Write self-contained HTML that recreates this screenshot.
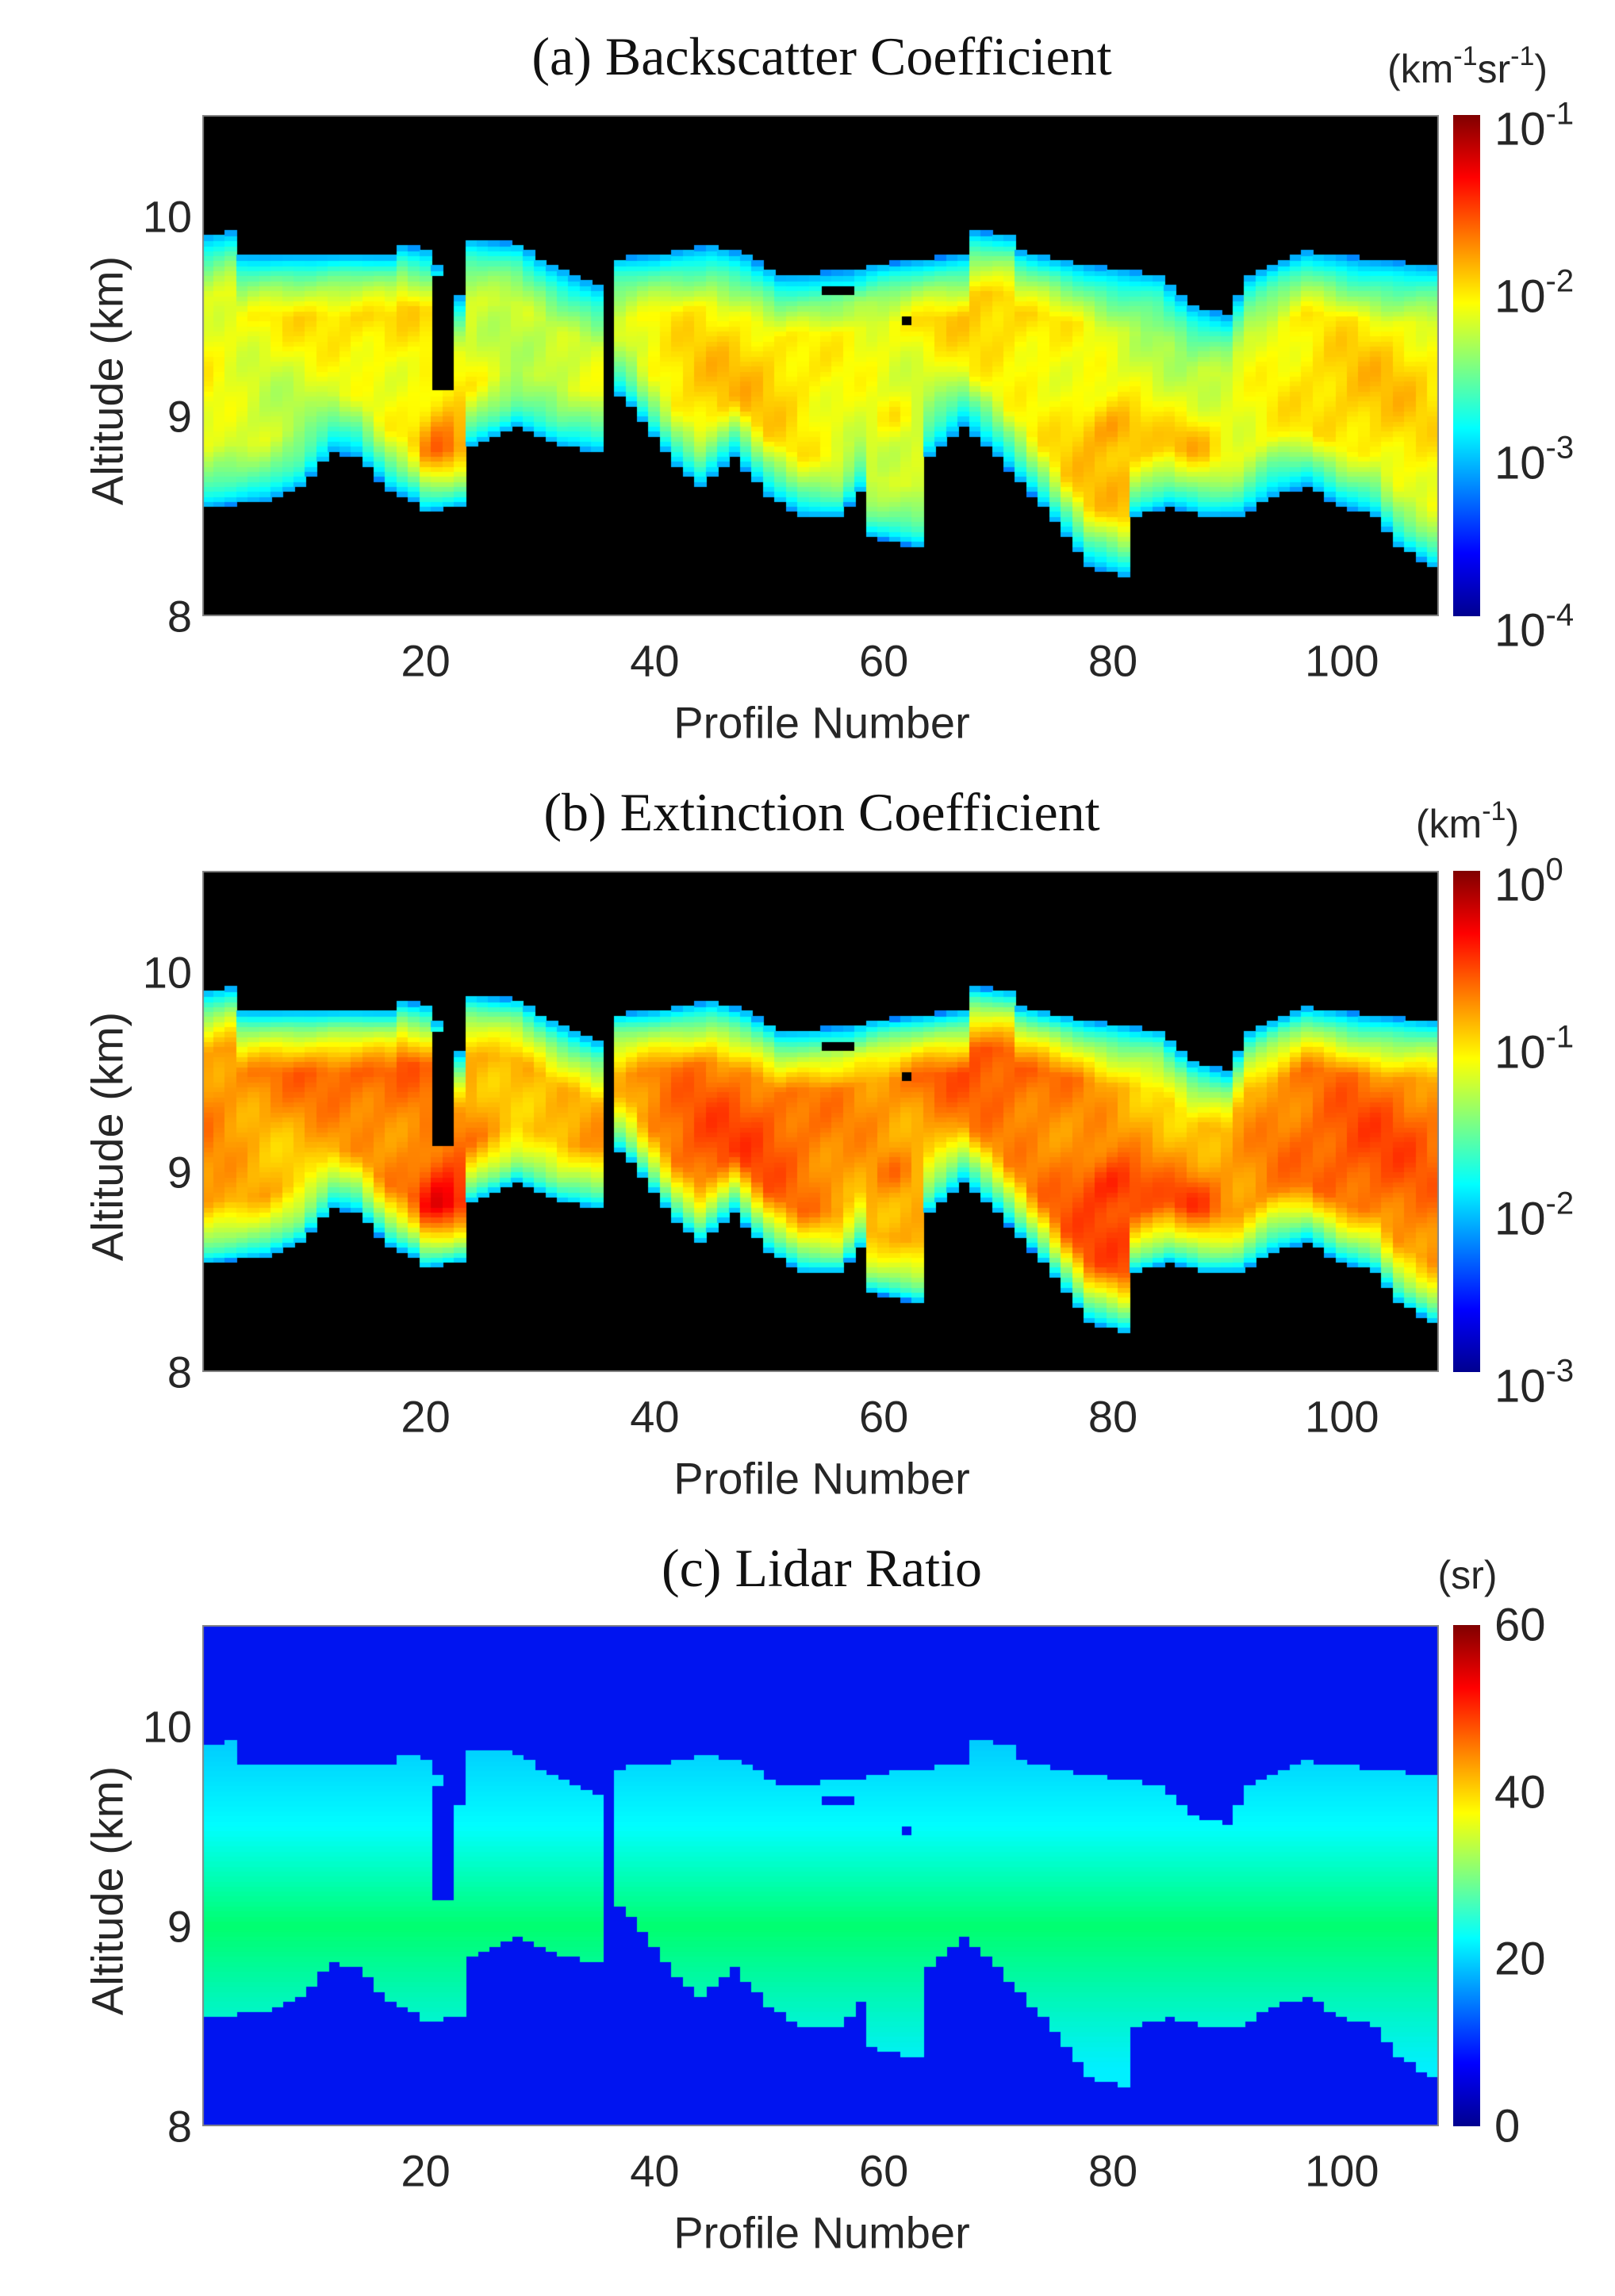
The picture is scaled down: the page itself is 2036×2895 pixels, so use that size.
<!DOCTYPE html>
<html><head><meta charset="utf-8">
<style>
body{margin:0;background:#fff;width:2036px;height:2895px;position:relative;overflow:hidden;font-family:"Liberation Sans",Arial,sans-serif;color:#262626}
.t{position:absolute;white-space:nowrap}
.title{font-family:"Liberation Serif",serif;font-size:68px;color:#111;transform:translateX(-50%)}
.tick{font-size:56px;transform:translate(-50%,-50%)}
.ytick{font-size:56px;transform:translate(-100%,-50%)}
.cb{font-size:58px;transform:translateY(-50%)}
.cb sup{font-size:40px;vertical-align:26px}
.unit{font-size:50px;transform:translateX(-50%)}
.unit sup{font-size:34px;vertical-align:22px}
.lab{font-size:56px;transform:translate(-50%,-50%)}
.ylab{font-size:56px;transform:translate(-50%,-50%) rotate(-90deg)}
canvas{position:absolute}
.bar{position:absolute;left:1832px;width:34px;height:632px;background:linear-gradient(to top,#00008f 0%,#0000ff 12.5%,#00ffff 37.5%,#ffff00 62.5%,#ff0000 87.5%,#800000 100%)}
</style></head><body>
<canvas id="c0" width="1559" height="632" style="left:255px;top:145px"></canvas>
<canvas id="c1" width="1559" height="632" style="left:255px;top:1098px"></canvas>
<canvas id="c2" width="1559" height="632" style="left:255px;top:2049px"></canvas>
<div class="bar" style="top:145px"></div>
<div class="bar" style="top:1098px"></div>
<div class="bar" style="top:2049px"></div>

<div class="t title" style="left:1036px;top:32px">(a) Backscatter Coefficient</div>
<div class="t title" style="left:1036px;top:985px">(b) Extinction Coefficient</div>
<div class="t title" style="left:1036px;top:1938px">(c) Lidar Ratio</div>

<div class="t unit" style="left:1850px;top:52px">(km<sup>-1</sup>sr<sup>-1</sup>)</div>
<div class="t unit" style="left:1850px;top:1004px">(km<sup>-1</sup>)</div>
<div class="t unit" style="left:1850px;top:1957px">(sr)</div>

<div id="labels"></div>
<script>
var L=document.getElementById('labels'),h='';
var offs=[145,1098,2049];
function add(cls,x,y,txt){h+='<div class="t '+cls+'" style="left:'+x+'px;top:'+y+'px">'+txt+'</div>';}
for(var k=0;k<3;k++){
 var o=offs[k];
 [20,40,60,80,100].forEach(function(v){add('tick',255+(v-0.5)*14.44,o+688,v);});
 add('ytick',242,o+632,'8');add('ytick',242,o+380,'9');add('ytick',242,o+128,'10');
 add('lab',1036,o+766,'Profile Number');
 add('ylab',135,o+335,'Altitude (km)');
}
var cbA=['-1','-2','-3','-4'],cbB=['0','-1','-2','-3'];
for(var i=0;i<4;i++){
 add('cb',1884,145+i*210.7+14,'10<sup>'+cbA[i]+'</sup>');
 add('cb',1884,1098+i*210.7+14,'10<sup>'+cbB[i]+'</sup>');
 add('cb',1884,2049+i*210.7,['60','40','20','0'][i]);
}
L.innerHTML=h;

function interp(pts,p){for(var i=0;i<pts.length-1;i++){if(p<=pts[i+1][0]){var a=pts[i],b=pts[i+1];return a[1]+(b[1]-a[1])*(p-a[0])/(b[0]-a[0]);}}return pts[pts.length-1][1];}
var tops=[[1,9.9],[3,9.92],[4,9.8],[17,9.8],[18,9.85],[20,9.83],[21,9.75],[23,9.6],[24,9.88],[28,9.86],[31,9.75],[35,9.65],[36,9.78],[40,9.8],[45,9.85],[48,9.8],[51,9.7],[57,9.72],[59,9.75],[67,9.8],[68,9.92],[71,9.9],[72,9.82],[78,9.75],[84,9.7],[87,9.55],[90,9.5],[92,9.7],[97,9.82],[102,9.78],[108,9.75]];
var bases=[[1,8.55],[6,8.58],[9,8.65],[12,8.82],[14,8.8],[17,8.63],[19,8.58],[20,8.52],[23,8.55],[24,8.85],[28,8.95],[32,8.85],[35,8.82],[36,9.15],[38,9.05],[42,8.75],[44,8.65],[47,8.8],[50,8.6],[53,8.5],[56,8.5],[58,8.62],[59,8.4],[63,8.35],[64,8.8],[67,8.95],[70,8.8],[74,8.55],[76,8.4],[78,8.25],[81,8.2],[82,8.5],[85,8.55],[88,8.5],[91,8.5],[94,8.6],[97,8.65],[100,8.55],[103,8.5],[105,8.35],[108,8.25]];
var cuts=[[21,22,9.12,9.7],[36,36,9.15,9.8],[55,57,9.6,9.66],[62,62,9.45,9.5]];
function jet(t){t=Math.max(0,Math.min(1,t));function c(v){return Math.round(255*Math.max(0,Math.min(1,v)));}
 return [c(Math.min(4*t-1.5,-4*t+4.5)),c(Math.min(4*t-0.5,-4*t+3.5)),c(Math.min(4*t+0.5,-4*t+2.5))];}
function noise(p,a){return 0.035*Math.sin(p*0.23+a*3.1)+0.03*Math.sin(p*0.11-a*5.3+1)+0.02*Math.sin(p*0.55+a*9)+0.015*Math.sin(p*1.3-a*17);}
function blob(p,a,pc,ac,rp,ra,amp){var dp=(p-pc)/rp,da=(a-ac)/ra;return amp*Math.exp(-(dp*dp+da*da));}
var NP=108,NA=100,dA=2.5/NA,cw=1559/NP,ch=632/NA;
for(var k=0;k<3;k++){
 var ctx=document.getElementById('c'+k).getContext('2d');
 ctx.fillStyle=k==2?'rgb(0,20,240)':'#000';ctx.fillRect(0,0,1559,632);
 for(var p=1;p<=NP;p++){
  var tp=interp(tops,p),bs=interp(bases,p);
  for(var j=0;j<NA;j++){
   var a=8+(j+0.5)*dA;
   if(a>tp||a<bs)continue;
   var cut=false;cuts.forEach(function(c){if(p>=c[0]&&p<=c[1]&&a>=c[2]&&a<=c[3])cut=true;});
   if(cut)continue;
   var d=Math.min(tp-a,a-bs),col;
   if(k==2){
     var g;
     if(a>9.5)col=[0,Math.round(200+55*Math.min(1,(9.95-a)/0.45)),255];
     else if(a>9.0){g=(9.5-a)/0.5;col=[0,255,Math.round(255-145*g)];}
     else {g=Math.min(1,(9.0-a)/0.7);col=[0,Math.round(255-15*g),Math.round(110+145*g)];}
   } else {
     var core=(k==0?0.62:0.74)+noise(p,a);
     core+=blob(p,a,21.5,8.85,2,0.2,0.13)+blob(p,a,80,8.95,2.5,0.12,0.08)+blob(p,a,57,9.58,2,0.06,0.08)+blob(p,a,87,8.88,2,0.1,0.06)+blob(p,a,61,9.0,2,0.1,0.06);
     var e=Math.min(1,d/0.3);
     var t=0.25+(core-0.25)*Math.pow(e,0.6);
     col=jet(t);
   }
   ctx.fillStyle='rgb('+col[0]+','+col[1]+','+col[2]+')';
   ctx.fillRect(Math.floor((p-1)*cw),Math.floor(632-(j+1)*ch),Math.ceil(cw)+1,Math.ceil(ch)+1);
  }
 }
 ctx.strokeStyle='#888';ctx.lineWidth=2;ctx.strokeRect(1,1,1557,630);
}
</script>
</body></html>
